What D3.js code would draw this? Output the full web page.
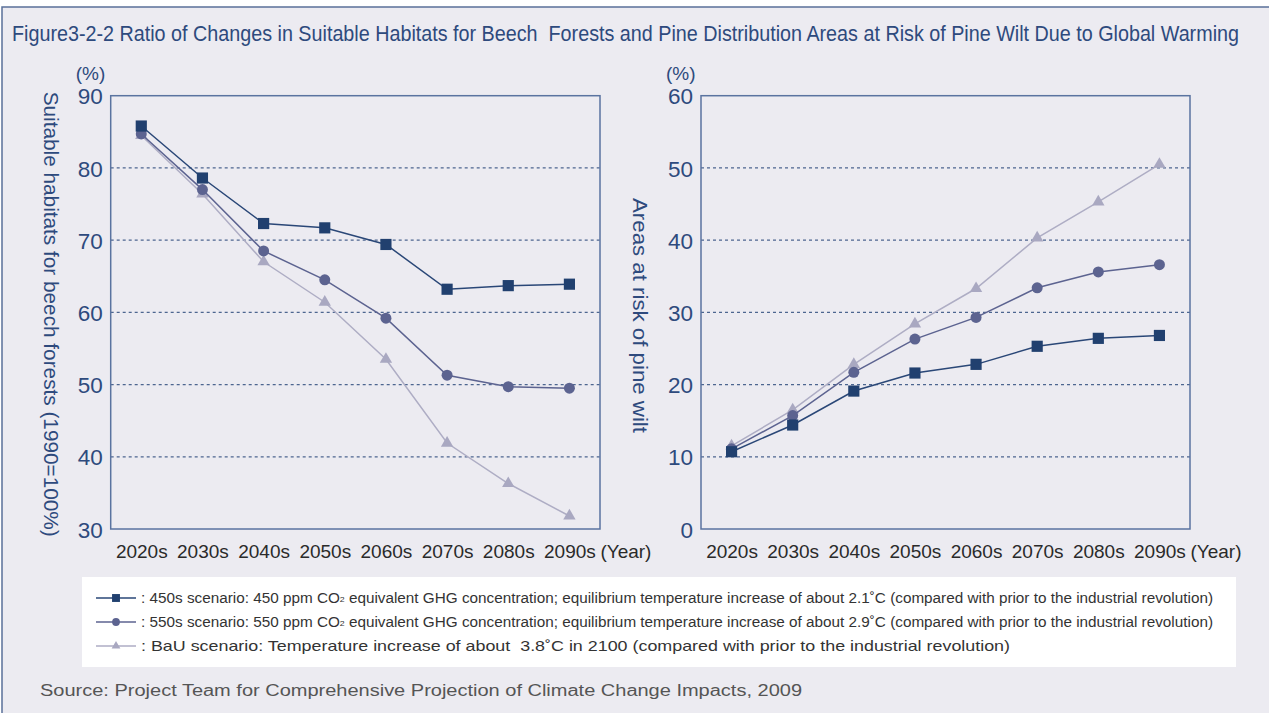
<!DOCTYPE html>
<html>
<head>
<meta charset="utf-8">
<script src="https://cdn.jsdelivr.net/npm/d3@7"></script>
<style>
  html, body { margin: 0; padding: 0; background: #fff; }
  svg { display: block; font-family: "Liberation Sans", Arial, sans-serif; }
  text { white-space: pre; }
</style>
</head>
<body>
<svg id="chart" width="1269" height="713"></svg>
<script>
// ---- data ----
const decades = ['2020s', '2030s', '2040s', '2050s', '2060s', '2070s', '2080s', '2090s'];

// suitable habitats for beech forests (1990 = 100%)
const beech450 = [85.8, 78.6, 72.3, 71.7, 69.4, 63.2, 63.7, 63.9];
const beech550 = [84.7, 77.0, 68.5, 64.5, 59.2, 51.3, 49.7, 49.5];
const beechBaU = [84.5, 76.4, 67.0, 61.4, 53.5, 41.9, 36.3, 31.8];

// areas at risk of pine wilt (%)
const pine450 = [10.7, 14.4, 19.1, 21.6, 22.8, 25.3, 26.4, 26.8];
const pine550 = [11.1, 15.7, 21.7, 26.3, 29.3, 33.4, 35.6, 36.6];
const pineBaU = [11.5, 16.5, 22.8, 28.4, 33.3, 40.3, 45.3, 50.5];

const beechTicks = [30, 40, 50, 60, 70, 80, 90];
const pineTicks = [0, 10, 20, 30, 40, 50, 60];

const legendLabels = [
  [': 450s scenario: 450 ppm CO', '2', ' equivalent GHG concentration; equilibrium temperature increase of about 2.1\u02daC (compared with prior to the industrial revolution)'],
  [': 550s scenario: 550 ppm CO', '2', ' equivalent GHG concentration; equilibrium temperature increase of about 2.9\u02daC (compared with prior to the industrial revolution)'],
  [': BaU scenario: Temperature increase of about  3.8\u02daC in 2100 (compared with prior to the industrial revolution)']
];

// ---- styles ----
const NAVY = '#2e4a7d';
const styles = {
  s450: { color: '#21406f', line: '#2a4777', symbol: d3.symbolSquare, size: 125 },
  s550: { color: '#5c6390', line: '#5c6390', symbol: d3.symbolCircle, size: 95 },
  sBaU: { color: '#a9a8c1', line: '#aeadc4', symbol: d3.symbolTriangle, size: 66 }
};

const svg = d3.select('#chart');

// outer panel
svg.append('rect').attr('x', 2).attr('y', 7).attr('width', 1300).attr('height', 720)
  .attr('fill', '#ecebf1').attr('stroke', '#5a7099').attr('stroke-width', 1.5);

// title, squeezed horizontally to the reference width
const title = svg.append('text')
  .attr('font-size', 22).attr('fill', NAVY)
  .text('Figure3-2-2 Ratio of Changes in Suitable Habitats for Beech  Forests and Pine Distribution Areas at Risk of Pine Wilt Due to Global Warming');
const tw = title.node().getComputedTextLength();
title.attr('transform', `translate(12,41) scale(${1228 / tw},1)`);

const TOP = 95.7, BOTTOM = 529;

const panels = [
  {
    left: 110.7, right: 600, domain: [30, 90], ticks: beechTicks,
    series: [['sBaU', beechBaU], ['s550', beech550], ['s450', beech450]],
    title: 'Suitable habitats for beech forests (1990=100%)', titleX: 51, titleY: 91.7, titleLen: 445
  },
  {
    left: 701, right: 1190, domain: [0, 60], ticks: pineTicks,
    series: [['sBaU', pineBaU], ['s550', pine550], ['s450', pine450]],
    title: 'Areas at risk of pine wilt', titleX: 640, titleY: 198, titleLen: 235
  }
];

panels.forEach(p => {
  const x = d3.scalePoint().domain(decades).range([p.left, p.right]).padding(0.5);
  const y = d3.scaleLinear().domain(p.domain).range([BOTTOM, TOP]);
  const g = svg.append('g');

  // dashed grid lines
  g.selectAll('.grid').data(p.ticks.slice(1, -1)).enter().append('line')
    .attr('x1', p.left).attr('x2', p.right)
    .attr('y1', d => y(d)).attr('y2', d => y(d))
    .attr('stroke', '#4d6690').attr('stroke-width', 1.2).attr('stroke-dasharray', '3,3');

  // frame
  g.append('rect').attr('x', p.left).attr('y', TOP)
    .attr('width', p.right - p.left).attr('height', BOTTOM - TOP)
    .attr('fill', 'none').attr('stroke', '#5a73a0').attr('stroke-width', 1.5);

  // y axis labels
  const ya = g.append('g').attr('transform', `translate(${p.left},0)`)
    .call(d3.axisLeft(y).tickValues(p.ticks).tickSize(0).tickPadding(8));
  ya.select('.domain').remove();
  ya.selectAll('text').attr('font-size', 22.5).attr('fill', NAVY)
    .attr('font-family', '"Liberation Sans", Arial, sans-serif').attr('dy', '0.36em');

  g.append('text').attr('x', p.left - 35).attr('y', 80)
    .attr('font-size', 19).attr('fill', NAVY).text('(%)');

  // x axis labels
  const xa = g.append('g').attr('transform', `translate(0,${BOTTOM})`)
    .call(d3.axisBottom(x).tickSize(0).tickPadding(0));
  xa.select('.domain').remove();
  xa.selectAll('text').attr('font-size', 19).attr('fill', '#2a2a2a')
    .attr('font-family', '"Liberation Sans", Arial, sans-serif')
    .attr('dy', null).attr('y', 29);
  g.append('text').attr('x', x(decades[decades.length - 1]) + 31).attr('y', BOTTOM + 29)
    .attr('font-size', 19).attr('fill', '#2a2a2a').text('(Year)');

  // axis title
  g.append('text')
    .attr('transform', `translate(${p.titleX},${p.titleY}) rotate(90)`)
    .attr('dominant-baseline', 'central')
    .attr('font-size', 20).attr('fill', NAVY)
    .attr('textLength', p.titleLen).attr('lengthAdjust', 'spacingAndGlyphs')
    .text(p.title);

  // series
  const line = d3.line().x((d, i) => x(decades[i])).y(d => y(d));
  p.series.forEach(([key, values]) => {
    const s = styles[key];
    g.append('path').datum(values).attr('d', line)
      .attr('fill', 'none').attr('stroke', s.line).attr('stroke-width', 1.5);
    g.selectAll(null).data(values).enter().append('path')
      .attr('transform', (d, i) => `translate(${x(decades[i])},${y(d)})`)
      .attr('d', d3.symbol().type(s.symbol).size(s.size))
      .attr('fill', s.color);
  });
});

// legend
const lg = svg.append('g');
lg.append('rect').attr('x', 82).attr('y', 577).attr('width', 1154).attr('height', 90).attr('fill', '#fff');
const legendKeys = ['s450', 's550', 'sBaU'];
const legendY = d3.scalePoint().domain(legendKeys).range([598, 646]);
const legendLens = [1072, 1072, 869];
legendKeys.forEach((k, i) => {
  const s = styles[k];
  const ly = legendY(k);
  lg.append('line').attr('x1', 96).attr('x2', 136).attr('y1', ly).attr('y2', ly)
    .attr('stroke', s.line).attr('stroke-width', 1.5);
  lg.append('path').attr('transform', `translate(116,${ly})`)
    .attr('d', d3.symbol().type(s.symbol).size(s.size * 0.5)).attr('fill', s.color);
  const t = lg.append('text').attr('x', 141).attr('y', ly + 5)
    .attr('font-size', i < 2 ? 14 : 15).attr('fill', '#333')
    .attr('textLength', legendLens[i]).attr('lengthAdjust', 'spacingAndGlyphs');
  const parts = legendLabels[i];
  if (parts.length === 3) {
    t.append('tspan').text(parts[0]);
    t.append('tspan').attr('font-size', 8).attr('dy', -1).text(parts[1]);
    t.append('tspan').attr('dy', 1).text(parts[2]);
  } else {
    t.text(parts[0]);
  }
});

svg.append('text').attr('x', 40).attr('y', 696)
  .attr('font-size', 16).attr('fill', '#555')
  .attr('textLength', 762).attr('lengthAdjust', 'spacingAndGlyphs')
  .text('Source: Project Team for Comprehensive Projection of Climate Change Impacts, 2009');
</script>
</body>
</html>
